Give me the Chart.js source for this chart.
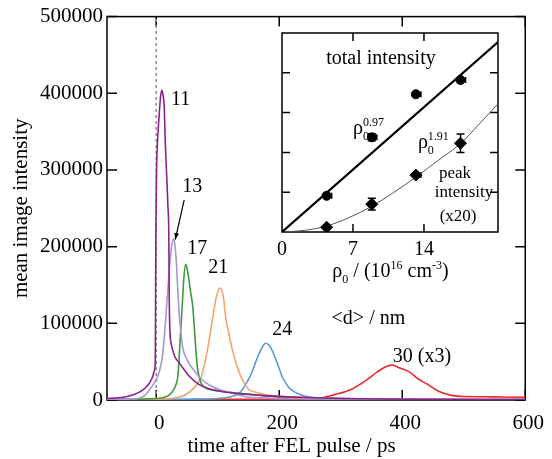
<!DOCTYPE html>
<html>
<head>
<meta charset="utf-8">
<script src="https://cdn.jsdelivr.net/npm/chart.js@4.4.0/dist/chart.umd.min.js"></script>
<style>
  body { margin: 0; background: #fff; }
  #wrap { position: relative; width: 552px; height: 459px; }
  #main { position: absolute; left: 0; top: 0; }
  #inset { position: absolute; left: 270px; top: 25px; }
</style>
</head>
<body>
<div id="wrap">
  <canvas id="main" width="552" height="459"></canvas>
  <canvas id="inset" width="240" height="270"></canvas>
</div>
<script>
// time traces (ps) and mean image intensity for each particle size <d>
var t11 = [-80, -60, -49, -35, -22, -15, -11, -6, -3, -1.5, -1, -0.5, 0.5, 2, 4, 7, 9, 11, 13, 14.6, 16.8, 19, 20.5, 21.2, 22.3, 24, 26.5, 30, 37, 45, 55, 70, 85, 100, 130, 170, 220, 300, 400, 600];
var i11 = [2000, 3000, 4300, 7500, 13000, 18000, 22000, 30000, 38000, 50000, 130000, 220000, 297000, 335000, 362000, 395000, 404000, 398000, 383000, 340000, 297000, 254000, 215000, 133000, 90000, 75000, 66000, 57000, 49000, 40000, 30000, 20000, 15000, 12000, 8500, 6000, 4000, 2000, 1000, 500];

var t13 = [-80, -50, -30, -20, -11, -5, 2, 6, 10, 13, 16, 19, 22, 25, 28, 30, 33, 35, 37.4, 40, 43, 48, 54, 62, 70, 80, 90, 105, 120, 146, 180, 250, 350, 600];
var i13 = [500, 1000, 2000, 5000, 13000, 20000, 30000, 40000, 56000, 80000, 112000, 145000, 177000, 200000, 210000, 205000, 177000, 145000, 112000, 90000, 69000, 56000, 47000, 38000, 30000, 23000, 18000, 13000, 10000, 4300, 2500, 1500, 800, 300];

var t17 = [-80, 0, 15, 21, 28, 33, 35, 37, 39, 41, 43, 45, 48, 50, 53, 56, 59, 62, 64.5, 67, 70, 73, 80, 91.5, 110, 146, 200, 260, 350, 600];
var i17 = [500, 2000, 4000, 6500, 13000, 22000, 30000, 50000, 80000, 105000, 133000, 160000, 177000, 172000, 158000, 140000, 125000, 95000, 65000, 42000, 30000, 22000, 16000, 13000, 11000, 8000, 4000, 2500, 1200, 500];

var t21 = [-80, 0, 30, 45, 55, 65, 73, 78, 83, 88, 92, 98, 104, 109, 113, 118, 124, 131, 138, 144, 150, 162, 180, 216, 270, 350, 450, 600];
var i21 = [300, 1000, 2500, 6000, 11000, 19000, 30000, 45000, 64000, 88000, 108000, 135000, 146000, 135000, 108000, 87000, 65000, 45000, 30000, 21000, 14000, 10000, 6500, 4300, 2500, 1200, 800, 500];

var t24 = [-80, 0, 50, 100, 120, 135, 146, 155, 162, 170, 178, 184, 190, 195, 200, 205, 215, 222, 235, 250, 265, 300, 400, 600];
var i24 = [800, 800, 1000, 2000, 4000, 9000, 21000, 35000, 50000, 65000, 74000, 71000, 62000, 52000, 41000, 30000, 17000, 12000, 7000, 4000, 2500, 1500, 800, 500];

var t30 = [-80, 0, 100, 200, 250, 270, 290, 315, 340, 360, 375, 384, 395, 411, 425, 440, 460, 480, 500, 530, 560, 600];
var i30 = [500, 500, 800, 1000, 1500, 3000, 7000, 13000, 25000, 37000, 44000, 45500, 42000, 37000, 28000, 21000, 11000, 6000, 4500, 4300, 4000, 3500];

// FEL arrival marker
var zeroT = [0, 0];
var zeroI = [0, 500000];

var timeTicks = [0, 200, 400, 600];
var intensityTicks = [0, 100000, 200000, 300000, 400000, 500000];

// inset: scaling with density rho0
var rho = [4.4, 8.85, 13.2, 17.6];
var totalI = [0.91, 2.38, 3.46, 3.82];
var totalXErr = [0.5, 0.5, 0.5, 0.5];
var totalYErr = [0, 0.09, 0, 0];
var peakI = [0.12, 0.70, 1.43, 2.23];
var peakXErr = [0, 0, 0.5, 0];
var peakYErr = [0, 0.15, 0, 0.23];
var totalFitX = [0, 21.3];
var totalFitY = [0, 4.77];
var peakFitX = [0, 2.2, 4.4, 6.6, 8.8, 11.0, 13.2, 15.4, 17.6, 19.4, 21.3];
var peakFitY = [0, 0.04, 0.15, 0.36, 0.64, 0.99, 1.38, 1.80, 2.22, 2.70, 3.22];
var rhoTicks = [0, 7, 14];
var rhoMarks = [7, 14];
var insetYMarks = [1, 2, 3, 4];

var serif = "'Liberation Serif', 'Times New Roman', serif";
Chart.defaults.font.family = serif;
Chart.defaults.color = '#000';

function pairs(xs, ys) {
  return xs.map(function(x, i) { return { x: x, y: ys[i] }; });
}

function tickList(vals) {
  return vals.map(function(v) { return { value: v }; });
}

// box round the plot area with short ticks pointing inwards
function drawFrame(chart, xMarks, yMarks, len) {
  var ctx = chart.ctx, a = chart.chartArea;
  var sx = chart.scales.x, sy = chart.scales.y;
  ctx.save();
  ctx.strokeStyle = '#000';
  ctx.lineWidth = 1.5;
  ctx.strokeRect(a.left, a.top, a.right - a.left, a.bottom - a.top);
  ctx.beginPath();
  xMarks.forEach(function(v) {
    var px = sx.getPixelForValue(v);
    ctx.moveTo(px, a.bottom); ctx.lineTo(px, a.bottom - len);
    ctx.moveTo(px, a.top); ctx.lineTo(px, a.top + len);
  });
  yMarks.forEach(function(v) {
    var py = sy.getPixelForValue(v);
    ctx.moveTo(a.left, py); ctx.lineTo(a.left + len, py);
    ctx.moveTo(a.right, py); ctx.lineTo(a.right - len, py);
  });
  ctx.stroke();
  ctx.restore();
}

function drawNotes(chart, notes) {
  var ctx = chart.ctx, sx = chart.scales.x, sy = chart.scales.y;
  ctx.save();
  ctx.fillStyle = '#000';
  ctx.textBaseline = 'middle';
  notes.forEach(function(n) {
    ctx.font = n.size + 'px ' + serif;
    ctx.textAlign = n.align || 'center';
    ctx.fillText(n.text, sx.getPixelForValue(n.x), sy.getPixelForValue(n.y));
  });
  ctx.restore();
}

// text with sub/superscripts, runs flagged hold do not advance the pen
function drawRuns(ctx, runs, x, y, size, align) {
  var small = Math.round(size * 0.62);
  function fontFor(r) { return (r.sub || r.sup ? small : size) + 'px ' + serif; }
  var w = 0;
  runs.forEach(function(r) {
    ctx.font = fontFor(r);
    if (!r.hold) w += ctx.measureText(r.t).width;
  });
  var cx = align === 'center' ? x - w / 2 : x;
  ctx.save();
  ctx.fillStyle = '#000';
  ctx.textAlign = 'left';
  ctx.textBaseline = 'alphabetic';
  runs.forEach(function(r) {
    ctx.font = fontFor(r);
    var dy = r.sub ? size * 0.28 : (r.sup ? -size * 0.42 : 0);
    ctx.fillText(r.t, cx, y + dy);
    if (!r.hold) cx += ctx.measureText(r.t).width;
  });
  ctx.restore();
}

// ---------- main chart ----------
var curves = [
  { label: '11', t: t11, v: i11, color: '#8e1f8e' },
  { label: '13', t: t13, v: i13, color: '#a697d0' },
  { label: '17', t: t17, v: i17, color: '#3c9b3c' },
  { label: '21', t: t21, v: i21, color: '#f5a26f' },
  { label: '24', t: t24, v: i24, color: '#5b9bd3' },
  { label: '30 (x3)', t: t30, v: i30, color: '#e8282d' }
];

var mainSets = curves.map(function(c) {
  return {
    label: c.label,
    data: pairs(c.t, c.v),
    borderColor: c.color,
    borderWidth: 1.6,
    pointRadius: 0,
    cubicInterpolationMode: 'monotone',
    fill: false
  };
});
mainSets.push({
  label: 't = 0',
  data: pairs(zeroT, zeroI),
  borderColor: '#8c8c8c',
  borderWidth: 1.5,
  borderDash: [3, 3],
  pointRadius: 0
});

var mainNotes = [
  { text: '11', x: 24, y: 391000, size: 20, align: 'left' },
  { text: '13', x: 58.5, y: 278000, size: 20 },
  { text: '17', x: 66.7, y: 197000, size: 20 },
  { text: '21', x: 100.8, y: 173000, size: 20 },
  { text: '24', x: 205, y: 92000, size: 20 },
  { text: '30 (x3)', x: 432, y: 57000, size: 20 },
  { text: '<d> / nm', x: 345, y: 106000, size: 20 }
];

var mainDecor = {
  id: 'mainDecor',
  beforeDatasetsDraw: function(chart) {
    drawFrame(chart, timeTicks, intensityTicks, 10);
  },
  afterDatasetsDraw: function(chart) {
    var ctx = chart.ctx, sx = chart.scales.x, sy = chart.scales.y;
    drawNotes(chart, mainNotes);
    // pointer from the "13" label to its peak
    var x0 = sx.getPixelForValue(45.5), y0 = sy.getPixelForValue(261000);
    var x1 = sx.getPixelForValue(30.9), y1 = sy.getPixelForValue(209000);
    var ang = Math.atan2(y1 - y0, x1 - x0);
    ctx.save();
    ctx.strokeStyle = '#000';
    ctx.fillStyle = '#000';
    ctx.lineWidth = 1.2;
    ctx.beginPath();
    ctx.moveTo(x0, y0);
    ctx.lineTo(x1, y1);
    ctx.stroke();
    ctx.beginPath();
    ctx.moveTo(x1, y1);
    ctx.lineTo(x1 - 7 * Math.cos(ang - 0.35), y1 - 7 * Math.sin(ang - 0.35));
    ctx.lineTo(x1 - 7 * Math.cos(ang + 0.35), y1 - 7 * Math.sin(ang + 0.35));
    ctx.closePath();
    ctx.fill();
    // x axis title
    ctx.font = '21px ' + serif;
    ctx.textAlign = 'center';
    ctx.textBaseline = 'middle';
    ctx.fillText('time after FEL pulse / ps', sx.getPixelForValue(220), chart.chartArea.bottom + 46);
    ctx.restore();
  }
};

new Chart(document.getElementById('main'), {
  type: 'line',
  data: { datasets: mainSets },
  options: {
    responsive: false,
    animation: false,
    layout: { padding: { left: 0, right: 25, top: 13, bottom: 0 } },
    plugins: { legend: { display: false }, tooltip: { enabled: false } },
    scales: {
      x: {
        type: 'linear',
        min: -80,
        max: 600,
        afterBuildTicks: function(s) { s.ticks = tickList(timeTicks); },
        afterFit: function(s) { s.height = 59; },
        grid: { display: false, drawTicks: false },
        border: { display: false },
        ticks: {
          font: { size: 21 },
          padding: 11,
          labelOffset: 3,
          maxRotation: 0,
          autoSkip: false,
          callback: function(v) { return String(v); }
        }
      },
      y: {
        type: 'linear',
        min: 0,
        max: 500000,
        afterBuildTicks: function(s) { s.ticks = tickList(intensityTicks); },
        afterFit: function(s) { s.width = 107; },
        grid: { display: false, drawTicks: false },
        border: { display: false },
        ticks: {
          font: { size: 21 },
          padding: 4,
          callback: function(v) { return String(v); }
        },
        title: {
          display: true,
          text: 'mean image intensity',
          font: { size: 21 },
          padding: { top: 9, bottom: 0 }
        }
      }
    }
  },
  plugins: [mainDecor]
});

// ---------- inset ----------
var insetNotes = [
  { text: 'total intensity', x: 9.76, y: 4.35, size: 20 },
  { text: 'peak', x: 17.06, y: 1.48, size: 17 },
  { text: 'intensity', x: 17.95, y: 0.98, size: 17 },
  { text: '(x20)', x: 17.36, y: 0.40, size: 17 }
];

function drawErrors(chart, xs, ys, xErr, yErr) {
  var ctx = chart.ctx, sx = chart.scales.x, sy = chart.scales.y;
  ctx.save();
  ctx.strokeStyle = '#000';
  ctx.lineWidth = 1.5;
  ctx.beginPath();
  xs.forEach(function(x, i) {
    var px = sx.getPixelForValue(x), py = sy.getPixelForValue(ys[i]);
    if (xErr[i]) {
      var pr = sx.getPixelForValue(x + xErr[i]);
      ctx.moveTo(px, py); ctx.lineTo(pr, py);
      ctx.moveTo(pr, py - 3); ctx.lineTo(pr, py + 3);
    }
    if (yErr[i]) {
      var pt = sy.getPixelForValue(ys[i] + yErr[i]), pb = sy.getPixelForValue(ys[i] - yErr[i]);
      ctx.moveTo(px, pt); ctx.lineTo(px, pb);
      ctx.moveTo(px - 4, pt); ctx.lineTo(px + 4, pt);
      ctx.moveTo(px - 4, pb); ctx.lineTo(px + 4, pb);
    }
  });
  ctx.stroke();
  ctx.restore();
}

var insetDecor = {
  id: 'insetDecor',
  beforeDraw: function(chart) {
    var a = chart.chartArea, ctx = chart.ctx;
    ctx.save();
    ctx.fillStyle = '#fff';
    ctx.fillRect(a.left, a.top, a.right - a.left, a.bottom - a.top);
    ctx.restore();
  },
  beforeDatasetsDraw: function(chart) {
    drawFrame(chart, rhoMarks, insetYMarks, 8);
    drawErrors(chart, rho, totalI, totalXErr, totalYErr);
    drawErrors(chart, rho, peakI, peakXErr, peakYErr);
  },
  afterDatasetsDraw: function(chart) {
    var ctx = chart.ctx, sx = chart.scales.x, sy = chart.scales.y;
    drawNotes(chart, insetNotes);
    drawRuns(ctx, [{ t: 'ρ' }, { t: '0', sub: true, hold: true }, { t: '0.97', sup: true }],
      sx.getPixelForValue(7.0), sy.getPixelForValue(2.46), 20, 'left');
    drawRuns(ctx, [{ t: 'ρ' }, { t: '0', sub: true, hold: true }, { t: '1.91', sup: true }],
      sx.getPixelForValue(13.4), sy.getPixelForValue(2.11), 20, 'left');
    drawRuns(ctx, [
      { t: 'ρ' }, { t: '0', sub: true }, { t: ' / (10' }, { t: '16', sup: true },
      { t: ' cm' }, { t: '-3', sup: true }, { t: ')' }
    ], sx.getPixelForValue(10.7), chart.chartArea.bottom + 45, 20, 'center');
  }
};

new Chart(document.getElementById('inset'), {
  type: 'scatter',
  data: {
    datasets: [
      {
        label: 'total intensity',
        data: pairs(rho, totalI),
        pointStyle: 'circle',
        pointRadius: 4.5,
        backgroundColor: '#000',
        borderColor: '#000'
      },
      {
        label: 'peak intensity (x20)',
        data: pairs(rho, peakI),
        pointStyle: 'rectRot',
        pointRadius: 6,
        backgroundColor: '#000',
        borderColor: '#000'
      },
      {
        label: 'total fit',
        data: pairs(totalFitX, totalFitY),
        showLine: true,
        pointRadius: 0,
        borderColor: '#000',
        borderWidth: 2.2
      },
      {
        label: 'peak fit',
        data: pairs(peakFitX, peakFitY),
        showLine: true,
        pointRadius: 0,
        borderColor: '#555',
        borderWidth: 1,
        cubicInterpolationMode: 'monotone'
      }
    ]
  },
  options: {
    responsive: false,
    animation: false,
    layout: { padding: { left: 12, right: 12, top: 8, bottom: 0 } },
    plugins: { legend: { display: false }, tooltip: { enabled: false } },
    scales: {
      x: {
        type: 'linear',
        min: 0,
        max: 21.3,
        afterBuildTicks: function(s) { s.ticks = tickList(rhoTicks); },
        afterFit: function(s) { s.height = 63; },
        grid: { display: false, drawTicks: false },
        border: { display: false },
        ticks: { font: { size: 20 }, padding: 6, maxRotation: 0, autoSkip: false }
      },
      y: {
        type: 'linear',
        min: 0,
        max: 5,
        display: false
      }
    }
  },
  plugins: [insetDecor]
});
</script>
</body>
</html>
